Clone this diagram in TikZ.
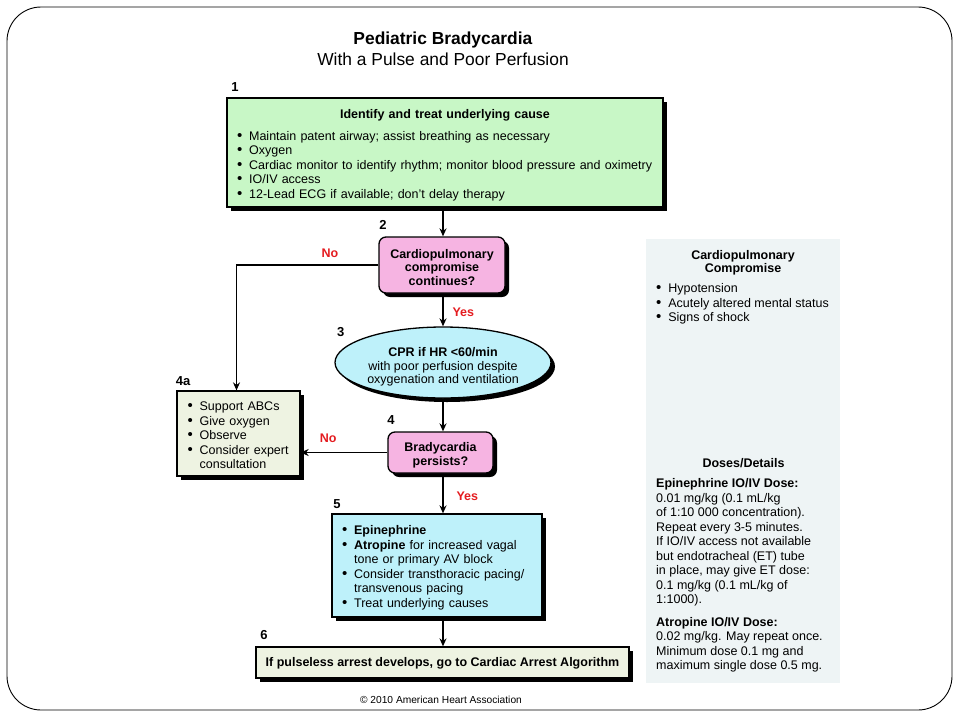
\documentclass[tikz,border=0pt]{standalone}
\usepackage{fontspec}
\setmainfont{Liberation Sans}
\usetikzlibrary{shapes.geometric,shadows,arrows.meta}

\definecolor{causegreen}{RGB}{200,247,198}
\definecolor{askpink}{RGB}{246,180,226}
\definecolor{actcyan}{RGB}{190,241,250}
\definecolor{notebeige}{RGB}{238,243,226}
\definecolor{panelgray}{RGB}{238,244,245}
\definecolor{answerred}{RGB}{228,28,32}

\newcommand{\bul}{\scalebox{1.2}{\textbullet}\hspace{0.55em}}
\newcommand{\ind}{\phantom{\scalebox{1.2}{\textbullet}}\hspace{0.55em}}
\newcommand{\lift}[1][14pt]{\rule{0pt}{#1}}

\begin{document}
\begin{tikzpicture}[x=1pt,y=-1pt,
    every node/.style={inner sep=0pt, font=\fontsize{12.5}{14.5}\selectfont},
    shadowed/.style={draw=black, line width=1.3pt,
      drop shadow={shadow xshift=4pt,shadow yshift=-4pt,fill=black,opacity=1}},
    listbox/.style={shadowed, align=left},
    askbox/.style={shadowed, fill=askpink, rounded corners=7pt, align=center,
      font=\fontsize{12.5}{13.6}\selectfont\bfseries},
    num/.style={font=\fontsize{13}{13}\selectfont\bfseries},
    answer/.style={font=\fontsize{12.5}{12.5}\selectfont\bfseries, text=answerred},
    arr/.style={line width=1.3pt, -{Stealth[length=8pt,width=7pt]}}]
\useasboundingbox (0,0) rectangle (960,720);
\draw[line width=0.9pt, rounded corners=34pt] (7,7) rectangle (952,710);

\node[font=\fontsize{17.4}{21.5}\selectfont, align=center] (title) at (443,49)
  {\textbf{Pediatric Bradycardia}\\With a Pulse and Poor Perfusion};

\node[listbox, fill=causegreen, minimum width=436, minimum height=109, text width=416] (cause) at (445,152.5)
  {\lift[15pt]\makebox[416pt]{\bfseries Identify and treat underlying cause}\\[7pt]
   \bul Maintain patent airway; assist breathing as necessary\\
   \bul Oxygen\\
   \bul Cardiac monitor to identify rhythm; monitor blood pressure and oximetry\\
   \bul IO/IV access\\
   \bul 12-Lead ECG if available; don't delay therapy};
\node[askbox, minimum width=126, minimum height=56] (comp) at (442,265)
  {\lift Cardiopulmonary\\compromise\\continues?};
\node[shadowed, ellipse, fill=actcyan, minimum width=216, minimum height=71] (cpr) at (443,362.5) {};
\node[align=center, font=\fontsize{12.5}{13.7}\selectfont] (cprtext) at ([yshift=-4.5pt]cpr.center)
  {\textbf{CPR if HR <60/min}\\with poor perfusion despite\\oxygenation and ventilation};
\node[listbox, fill=notebeige, minimum width=123, minimum height=85, text width=102] (support) at (238.5,433.5)
  {\lift[13pt]\bul Support ABCs\\
   \bul Give oxygen\\
   \bul Observe\\
   \bul Consider expert\\
   \ind consultation};
\node[askbox, minimum width=105, minimum height=41] (persist) at (440.5,452.5)
  {\lift Bradycardia\\persists?};
\node[listbox, fill=actcyan, minimum width=210, minimum height=103, text width=190] (treat) at (437,565.5)
  {\lift\bul\textbf{Epinephrine}\\
   \bul\textbf{Atropine} for increased vagal\\
   \ind tone or primary AV block\\
   \bul Consider transthoracic pacing/\\
   \ind transvenous pacing\\
   \bul Treat underlying causes};
\node[shadowed, fill=notebeige, minimum width=373, minimum height=31,
  font=\fontsize{12.5}{14.5}\selectfont\bfseries] (arrest) at (442.5,662.5)
  {\lift[11pt]If pulseless arrest develops, go to Cardiac Arrest Algorithm};
\node[font=\fontsize{10.2}{12}\selectfont] (credit) at (441,700) {© 2010 American Heart Association};

\node[fill=panelgray, minimum width=194, minimum height=444] (panel) at (743,461) {};
\node[align=center, font=\fontsize{12.5}{13.5}\selectfont\bfseries] (signs) at (743,263)
  {Cardiopulmonary\\Compromise};
\node[align=left, anchor=north west] (signlist) at (656,283.5)
  {\bul Hypotension\\
   \bul Acutely altered mental status\\
   \bul Signs of shock};
\node[font=\fontsize{12.5}{14.5}\selectfont\bfseries] (doses) at (743.5,463.3) {Doses/Details};
\node[align=left, anchor=north west] (doselist) at (656,478.5)
  {\textbf{Epinephrine IO/IV Dose:}\\
   0.01 mg/kg (0.1 mL/kg\\
   of 1:10 000 concentration).\\
   Repeat every 3-5 minutes.\\
   If IO/IV access not available\\
   but endotracheal (ET) tube\\
   in place, may give ET dose:\\
   0.1 mg/kg (0.1 mL/kg of\\
   1:1000).\\[8pt]
   \textbf{Atropine IO/IV Dose:}\\
   0.02 mg/kg. May repeat once.\\
   Minimum dose 0.1 mg and\\
   maximum single dose 0.5 mg.};

\node[num] (n1) at (235,86.7) {1};
\node[num] (n2) at (383,225) {2};
\node[num] (n3) at (340.7,331.7) {3};
\node[num] (n4a) at (183,380.7) {4a};
\node[num] (n4) at (391,420) {4};
\node[num] (n5) at (337,504) {5};
\node[num] (n6) at (264,635) {6};

\node[answer] (no1) at (330,253.3) {No};
\node[answer] (yes1) at (463.3,312.7) {Yes};
\node[answer] (no2) at (328.3,438.3) {No};
\node[answer] (yes2) at (467.3,496.7) {Yes};

\draw[arr] (cause.south -| cpr.north) -- (cpr.north |- comp.north);
\draw[arr] (comp.south -| cpr.north) -- (cpr.north);
\draw[arr] (comp.west) -| ([xshift=-2pt]support.north);
\draw[arr] (cpr.south) -- (cpr.south |- persist.north);
\draw[arr] (persist.west) -- (persist.west -| support.east);
\draw[arr] (persist.south -| cpr.south) -- (cpr.south |- treat.north);
\draw[arr] (treat.south -| cpr.south) -- (cpr.south |- arrest.north);
\end{tikzpicture}
\end{document}
